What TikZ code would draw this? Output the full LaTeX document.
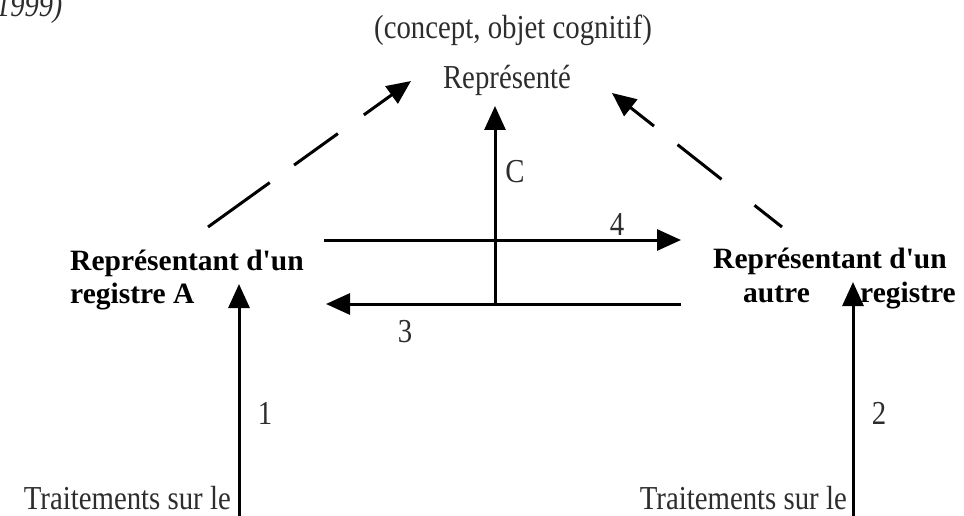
\documentclass[tikz,border=0pt]{standalone}
\usepackage{fontspec}
\setmainfont{Liberation Serif}
\newfontfamily\condfont{Liberation Serif}[FakeStretch=0.86]
\usetikzlibrary{arrows.meta}
\definecolor{ink}{RGB}{45,45,45}
\begin{document}
\begin{tikzpicture}[x=1pt,y=-1pt,
  txt/.style={inner sep=0pt, text=ink, font=\condfont\fontsize{33.5}{36}\selectfont},
  bld/.style={inner sep=0pt, text=black, font=\fontsize{29.5}{32}\selectfont\bfseries},
  arr/.style={line width=3pt, draw=black, -{Triangle[length=24pt,width=21pt]}},
  darr/.style={line width=3pt, draw=black, -{Triangle[length=24pt,width=21pt]}}
]
\useasboundingbox (0,0) rectangle (964,516);

% texts
\node[txt, anchor=base west, font=\condfont\fontsize{33}{36}\selectfont\itshape] (year) at (-4,17) {1999)};
\node[txt, anchor=base] (concept) at (513,39) {(concept, objet cognitif)};
\node[txt, anchor=base] (repre) at (507,89) {Représenté};

\node[bld, anchor=base west] (ra1) at (70,270) {Représentant d\textquotesingle un};
\node[bld, anchor=base west] (ra2) at (70,303) {registre A};
\node[bld, anchor=base west] (rb1) at (713,268) {Représentant d\textquotesingle un};
\node[bld, anchor=base west] (rb2) at (743,302) {autre};
\node[bld, anchor=base west] (rb3) at (860,302) {registre};

\node[txt, anchor=base east] (tr1) at (231,509) {Traitements sur le};
\node[txt, anchor=base east] (tr2) at (847,509) {Traitements sur le};

\node[txt, anchor=center] (l1) at (265,413) {1};
\node[txt, anchor=center] (l2) at (879,413) {2};
\node[txt, anchor=center] (l3) at (405,332) {3};
\node[txt, anchor=center] (l4) at (617,224) {4};
\node[txt, anchor=center] (lC) at (515,172) {C};

% coordinates
\coordinate (dAt) at (208,227);
\coordinate (dAh) at (411,81);
\coordinate (dBt) at (782,227);
\coordinate (dBh) at (612,93);
\coordinate (c4s) at (324,240);
\coordinate (c4e) at (681,240);
\coordinate (c3s) at (681,304);
\coordinate (c3e) at (326,304);
\coordinate (cCs) at (495,304);
\coordinate (cCe) at (495,106);
\coordinate (c1s) at (239,518);
\coordinate (c1e) at (239,284);
\coordinate (c2s) at (853,518);
\coordinate (c2e) at (853,282);

% connectors
\draw[darr, dash pattern=on 76pt off 30pt on 54pt off 32pt on 200pt] (dAt) -- (dAh);
\draw[darr, dash pattern=on 35pt off 42pt on 56pt off 30pt on 200pt] (dBt) -- (dBh);
\draw[arr] (c4s) -- (c4e);
\draw[arr] (c3s) -- (c3e);
\draw[arr] (cCs) -- (cCe);
\draw[arr] (c1s) -- (c1e);
\draw[arr] (c2s) -- (c2e);
\end{tikzpicture}
\end{document}
